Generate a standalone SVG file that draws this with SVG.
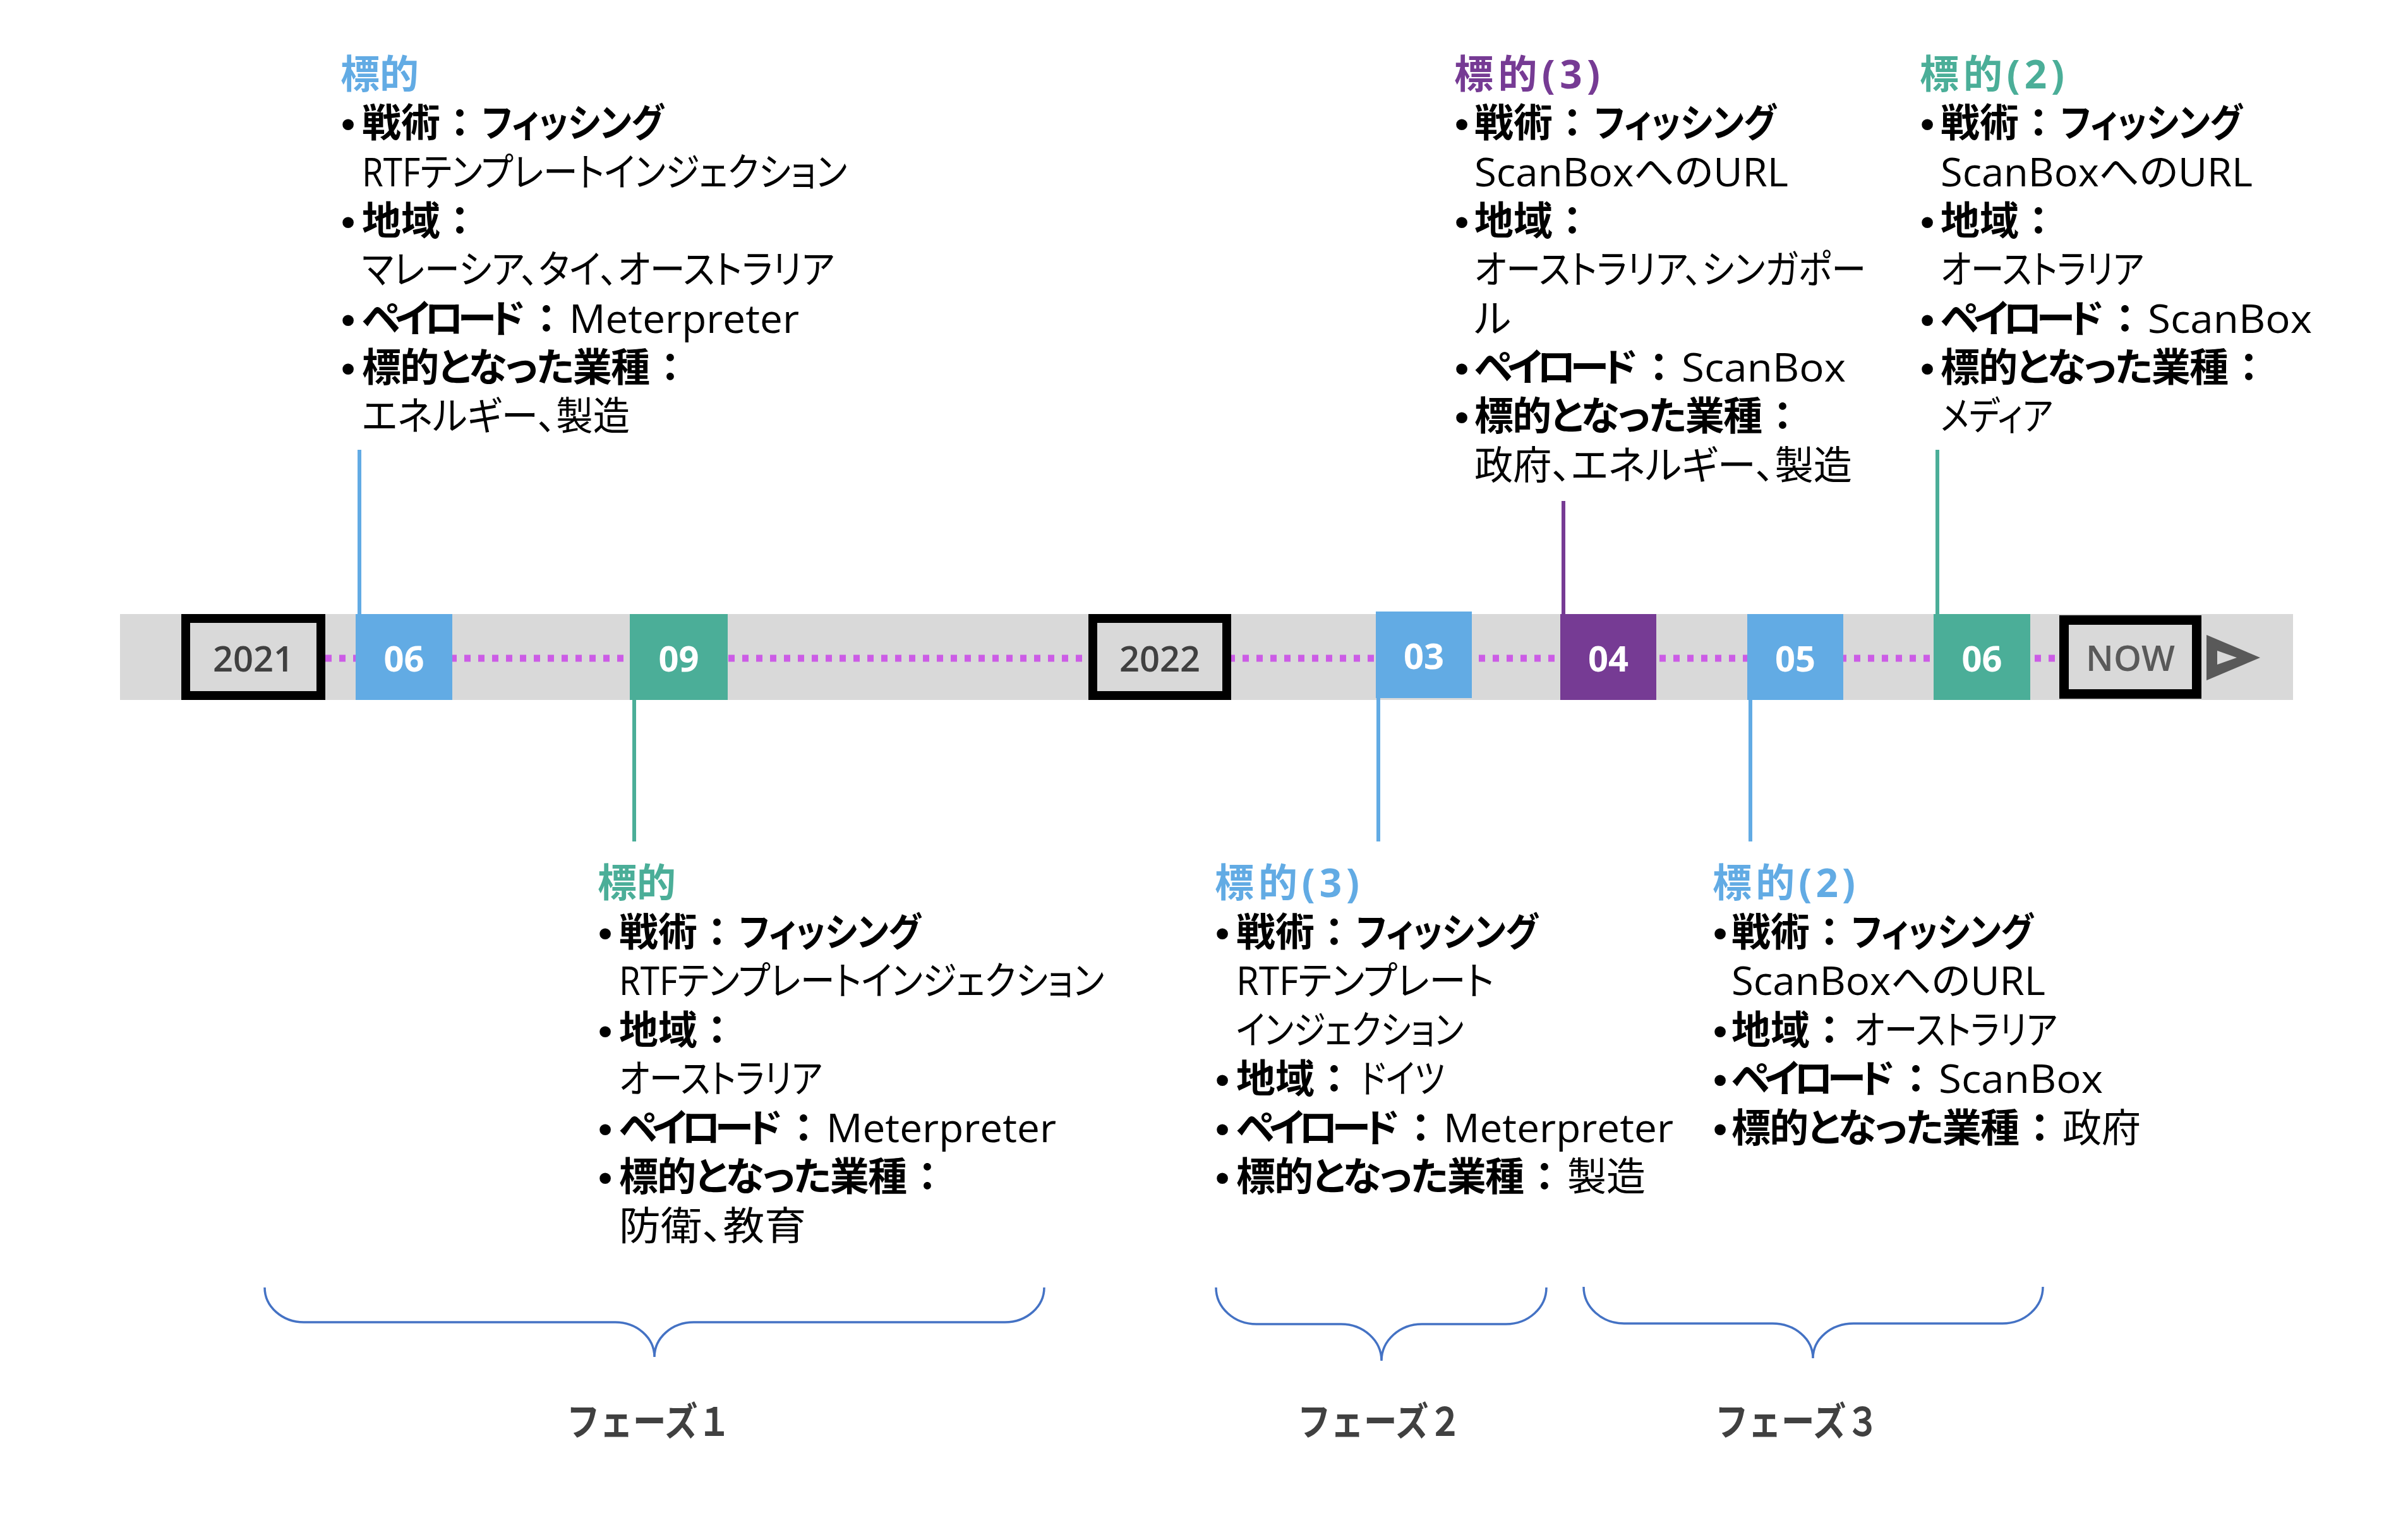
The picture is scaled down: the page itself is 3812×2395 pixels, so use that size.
<svg xmlns="http://www.w3.org/2000/svg" width="3812" height="2395" viewBox="0 0 3812 2395">
<style>
.t{font-family:"Open Sans","Noto Sans CJK JP",sans-serif;font-size:62px;fill:#000}
.b{font-weight:700}
.r{font-weight:400}
.p{font-feature-settings:"palt"}
.bl{font-family:"Liberation Sans",sans-serif;font-size:62px;font-weight:700;text-anchor:middle;fill:#000}
.hblue{fill:#62ABE4}
.hteal{fill:#4BAE98}
.hpur{fill:#763B94}
.num{font-family:"Open Sans","Noto Sans",sans-serif;font-size:56px;font-weight:700;fill:#fff;text-anchor:middle}
.yr{font-family:"Open Sans","Noto Sans",sans-serif;font-size:56px;font-weight:600;fill:#404040;text-anchor:middle}
.ph{font-family:"Noto Sans CJK JP","Noto Sans",sans-serif;font-size:62px;font-weight:700;fill:#404040;text-anchor:middle}
.brace{fill:none;stroke:#4472C4;stroke-width:3.5}
.conn{stroke-width:6;fill:none}
</style>
<rect width="3812" height="2395" fill="#fff"/>

<g id="timeline">
  <rect x="190" y="972" width="3440" height="136" fill="#D9D9D9"/>
  <line x1="515" y1="1042" x2="3260" y2="1042" stroke="#CC5CE6" stroke-width="11" stroke-dasharray="10 12"/>
</g>

<g id="connectors">
  <line class="conn" x1="569" y1="712" x2="569" y2="974" stroke="#62ABE4"/>
  <line class="conn" x1="1004" y1="1106" x2="1004" y2="1332" stroke="#4BAE98"/>
  <line class="conn" x1="2182" y1="1103" x2="2182" y2="1332" stroke="#62ABE4"/>
  <line class="conn" x1="2475" y1="793" x2="2475" y2="974" stroke="#763B94"/>
  <line class="conn" x1="2771" y1="1106" x2="2771" y2="1332" stroke="#62ABE4"/>
  <line class="conn" x1="3067" y1="712" x2="3067" y2="974" stroke="#4BAE98"/>
</g>

<g id="year-2021">
  <rect x="294" y="979" width="214" height="122" fill="#D9D9D9" stroke="#000" stroke-width="14"/>
  <text class="yr" x="401" y="1063">2021</text>
</g>
<g id="m-2021-06">
  <rect x="563" y="972" width="153" height="136" fill="#62ABE4"/>
  <text class="num" x="639.5" y="1063">06</text>
</g>
<g id="m-2021-09">
  <rect x="997" y="972" width="155" height="136" fill="#4BAE98"/>
  <text class="num" x="1074.5" y="1063">09</text>
</g>
<g id="year-2022">
  <rect x="1730" y="979" width="212" height="122" fill="#D9D9D9" stroke="#000" stroke-width="14"/>
  <text class="yr" x="1836" y="1063">2022</text>
</g>
<g id="m-2022-03">
  <rect x="2178" y="968" width="152" height="137" fill="#62ABE4"/>
  <text class="num" x="2254" y="1059">03</text>
</g>
<g id="m-2022-04">
  <rect x="2470" y="972" width="152" height="136" fill="#763B94"/>
  <text class="num" x="2546" y="1063">04</text>
</g>
<g id="m-2022-05">
  <rect x="2766" y="972" width="152" height="136" fill="#62ABE4"/>
  <text class="num" x="2842" y="1063">05</text>
</g>
<g id="m-2022-06">
  <rect x="3061" y="972" width="153" height="136" fill="#4BAE98"/>
  <text class="num" x="3137.5" y="1063">06</text>
</g>
<g id="now">
  <rect x="3267.5" y="981.5" width="210" height="117" fill="#D9D9D9" stroke="#000" stroke-width="15"/>
  <text class="yr" x="3372.5" y="1062" style="fill:#595959">NOW</text>
  <polygon points="3493,1005 3578,1041 3493,1077" fill="#595959"/>
  <polygon points="3510,1030 3541,1041 3510,1052" fill="#D9D9D9"/>
</g>

<!-- Block A : X=573 -->
<g id="target-2021-06">
  <text class="t b hblue" x="539" y="140">標的</text>
  <text class="bl" x="551" y="217">•</text>
  <text class="t b" x="573" y="217">戦術：</text>
  <text class="t b p" x="763" y="217" textLength="288" lengthAdjust="spacingAndGlyphs">フィッシング</text>
  <text class="t r p" x="573" y="295" textLength="768" lengthAdjust="spacingAndGlyphs">RTFテンプレートインジェクション</text>
  <text class="bl" x="551" y="372">•</text>
  <text class="t b" x="573" y="372">地域：</text>
  <text class="t r p" x="573" y="449" textLength="748" lengthAdjust="spacingAndGlyphs">マレーシア、タイ、オーストラリア</text>
  <text class="bl" x="551" y="527">•</text>
  <text class="t b p" x="573" y="527" textLength="258" lengthAdjust="spacing">ペイロード</text>
  <text class="t b" x="834" y="527">：</text>
  <text class="t r" x="901" y="527" textLength="364" lengthAdjust="spacingAndGlyphs">Meterpreter</text>
  <text class="bl" x="551" y="604">•</text>
  <text class="t b p" x="573" y="604" textLength="456" lengthAdjust="spacing">標的となった業種</text>
  <text class="t b" x="1030" y="604">：</text>
  <text class="t r p" x="573" y="681" textLength="424" lengthAdjust="spacingAndGlyphs">エネルギー、製造</text>
</g>

<!-- Block B : X=980 -->
<g id="target-2021-09">
  <text class="t b hteal" x="946" y="1420">標的</text>
  <text class="bl" x="958" y="1497.5">•</text>
  <text class="t b" x="980" y="1497.5">戦術：</text>
  <text class="t b p" x="1170" y="1497.5" textLength="288" lengthAdjust="spacingAndGlyphs">フィッシング</text>
  <text class="t r p" x="980" y="1575" textLength="768" lengthAdjust="spacingAndGlyphs">RTFテンプレートインジェクション</text>
  <text class="bl" x="958" y="1652.5">•</text>
  <text class="t b" x="980" y="1652.5">地域：</text>
  <text class="t r p" x="980" y="1730" textLength="322" lengthAdjust="spacingAndGlyphs">オーストラリア</text>
  <text class="bl" x="958" y="1807.5">•</text>
  <text class="t b p" x="980" y="1807.5" textLength="258" lengthAdjust="spacing">ペイロード</text>
  <text class="t b" x="1241" y="1807.5">：</text>
  <text class="t r" x="1308" y="1807.5" textLength="364" lengthAdjust="spacingAndGlyphs">Meterpreter</text>
  <text class="bl" x="958" y="1885">•</text>
  <text class="t b p" x="980" y="1885" textLength="456" lengthAdjust="spacing">標的となった業種</text>
  <text class="t b" x="1437" y="1885">：</text>
  <text class="t r p" x="980" y="1962.5" textLength="296" lengthAdjust="spacingAndGlyphs">防衛、教育</text>
</g>

<!-- Block C : X=1957 -->
<g id="target-2022-03">
  <text class="t b hblue" x="1923" y="1420" textLength="229" lengthAdjust="spacing">標的(3)</text>
  <text class="bl" x="1935" y="1497.5">•</text>
  <text class="t b" x="1957" y="1497.5">戦術：</text>
  <text class="t b p" x="2147" y="1497.5" textLength="288" lengthAdjust="spacingAndGlyphs">フィッシング</text>
  <text class="t r p" x="1957" y="1575" textLength="408" lengthAdjust="spacingAndGlyphs">RTFテンプレート</text>
  <text class="t r p" x="1957" y="1652.5" textLength="360" lengthAdjust="spacingAndGlyphs">インジェクション</text>
  <text class="bl" x="1935" y="1730">•</text>
  <text class="t b" x="1957" y="1730">地域：</text>
  <text class="t r p" x="2153" y="1730" textLength="134" lengthAdjust="spacingAndGlyphs">ドイツ</text>
  <text class="bl" x="1935" y="1807.5">•</text>
  <text class="t b p" x="1957" y="1807.5" textLength="258" lengthAdjust="spacing">ペイロード</text>
  <text class="t b" x="2218" y="1807.5">：</text>
  <text class="t r" x="2285" y="1807.5" textLength="364" lengthAdjust="spacingAndGlyphs">Meterpreter</text>
  <text class="bl" x="1935" y="1885">•</text>
  <text class="t b p" x="1957" y="1885" textLength="456" lengthAdjust="spacing">標的となった業種</text>
  <text class="t b" x="2414" y="1885">：</text>
  <text class="t r" x="2481" y="1885">製造</text>
</g>

<!-- Block D : X=2741 -->
<g id="target-2022-05">
  <text class="t b hblue" x="2711" y="1420" textLength="226" lengthAdjust="spacing">標的(2)</text>
  <text class="bl" x="2723" y="1497.5">•</text>
  <text class="t b" x="2741" y="1497.5">戦術：</text>
  <text class="t b p" x="2931" y="1497.5" textLength="288" lengthAdjust="spacingAndGlyphs">フィッシング</text>
  <text class="t r p" x="2741" y="1575" textLength="497" lengthAdjust="spacingAndGlyphs">ScanBoxへのURL</text>
  <text class="bl" x="2723" y="1652.5">•</text>
  <text class="t b" x="2741" y="1652.5">地域：</text>
  <text class="t r p" x="2935" y="1652.5" textLength="322" lengthAdjust="spacingAndGlyphs">オーストラリア</text>
  <text class="bl" x="2723" y="1730">•</text>
  <text class="t b p" x="2741" y="1730" textLength="258" lengthAdjust="spacing">ペイロード</text>
  <text class="t b" x="3002" y="1730">：</text>
  <text class="t r" x="3069" y="1730" textLength="260" lengthAdjust="spacingAndGlyphs">ScanBox</text>
  <text class="bl" x="2723" y="1807.5">•</text>
  <text class="t b p" x="2741" y="1807.5" textLength="456" lengthAdjust="spacing">標的となった業種</text>
  <text class="t b" x="3198" y="1807.5">：</text>
  <text class="t r" x="3265" y="1807.5">政府</text>
</g>

<!-- Block E : X=2334 -->
<g id="target-2022-04">
  <text class="t b hpur" x="2302" y="140" textLength="231" lengthAdjust="spacing">標的(3)</text>
  <text class="bl" x="2314" y="217">•</text>
  <text class="t b" x="2334" y="217">戦術：</text>
  <text class="t b p" x="2524" y="217" textLength="288" lengthAdjust="spacingAndGlyphs">フィッシング</text>
  <text class="t r p" x="2334" y="295" textLength="497" lengthAdjust="spacingAndGlyphs">ScanBoxへのURL</text>
  <text class="bl" x="2314" y="372">•</text>
  <text class="t b" x="2334" y="372">地域：</text>
  <text class="t r p" x="2334" y="449" textLength="620" lengthAdjust="spacingAndGlyphs">オーストラリア、シンガポー</text>
  <text class="t r p" x="2334" y="527">ル</text>
  <text class="bl" x="2314" y="604">•</text>
  <text class="t b p" x="2334" y="604" textLength="258" lengthAdjust="spacing">ペイロード</text>
  <text class="t b" x="2595" y="604">：</text>
  <text class="t r" x="2662" y="604" textLength="260" lengthAdjust="spacingAndGlyphs">ScanBox</text>
  <text class="bl" x="2314" y="681">•</text>
  <text class="t b p" x="2334" y="681" textLength="456" lengthAdjust="spacing">標的となった業種</text>
  <text class="t b" x="2791" y="681">：</text>
  <text class="t r p" x="2334" y="759" textLength="598" lengthAdjust="spacingAndGlyphs">政府、エネルギー、製造</text>
</g>

<!-- Block F : X=3072 -->
<g id="target-2022-06">
  <text class="t b hteal" x="3039" y="140" textLength="229" lengthAdjust="spacing">標的(2)</text>
  <text class="bl" x="3051" y="217">•</text>
  <text class="t b" x="3072" y="217">戦術：</text>
  <text class="t b p" x="3262" y="217" textLength="288" lengthAdjust="spacingAndGlyphs">フィッシング</text>
  <text class="t r p" x="3072" y="295" textLength="494" lengthAdjust="spacingAndGlyphs">ScanBoxへのURL</text>
  <text class="bl" x="3051" y="372">•</text>
  <text class="t b" x="3072" y="372">地域：</text>
  <text class="t r p" x="3072" y="449" textLength="322" lengthAdjust="spacingAndGlyphs">オーストラリア</text>
  <text class="bl" x="3051" y="527">•</text>
  <text class="t b p" x="3072" y="527" textLength="258" lengthAdjust="spacing">ペイロード</text>
  <text class="t b" x="3333" y="527">：</text>
  <text class="t r" x="3400" y="527" textLength="260" lengthAdjust="spacingAndGlyphs">ScanBox</text>
  <text class="bl" x="3051" y="604">•</text>
  <text class="t b p" x="3072" y="604" textLength="456" lengthAdjust="spacing">標的となった業種</text>
  <text class="t b" x="3529" y="604">：</text>
  <text class="t r p" x="3072" y="681" textLength="178" lengthAdjust="spacingAndGlyphs">メディア</text>
</g>

<g id="phase-1">
  <path class="brace" d="M419,2038 C419,2068.4 446.8,2093 481,2093 L974,2093 C1008.2,2093 1036,2117.6 1036,2148 C1036,2117.6 1063.8,2093 1098,2093 L1591,2093 C1625.2,2093 1653,2068.4 1653,2038"/>
  <text class="ph" x="1027" y="2273" textLength="260" lengthAdjust="spacingAndGlyphs">フェーズ１</text>
</g>
<g id="phase-2">
  <path class="brace" d="M1925,2038 C1925,2070 1953.7,2096 1989,2096 L2123,2096 C2158.3,2096 2187,2122 2187,2154 C2187,2122 2215.7,2096 2251,2096 L2384,2096 C2419.3,2096 2448,2070 2448,2038"/>
  <text class="ph" x="2184" y="2273" textLength="260" lengthAdjust="spacingAndGlyphs">フェーズ２</text>
</g>
<g id="phase-3">
  <path class="brace" d="M2507,2037 C2507,2069 2535.7,2095 2571,2095 L2806,2095 C2841.3,2095 2870,2119.6 2870,2150 C2870,2119.6 2898.7,2095 2934,2095 L3170,2095 C3205.3,2095 3234,2069 3234,2037"/>
  <text class="ph" x="2845" y="2273" textLength="260" lengthAdjust="spacingAndGlyphs">フェーズ３</text>
</g>
</svg>
